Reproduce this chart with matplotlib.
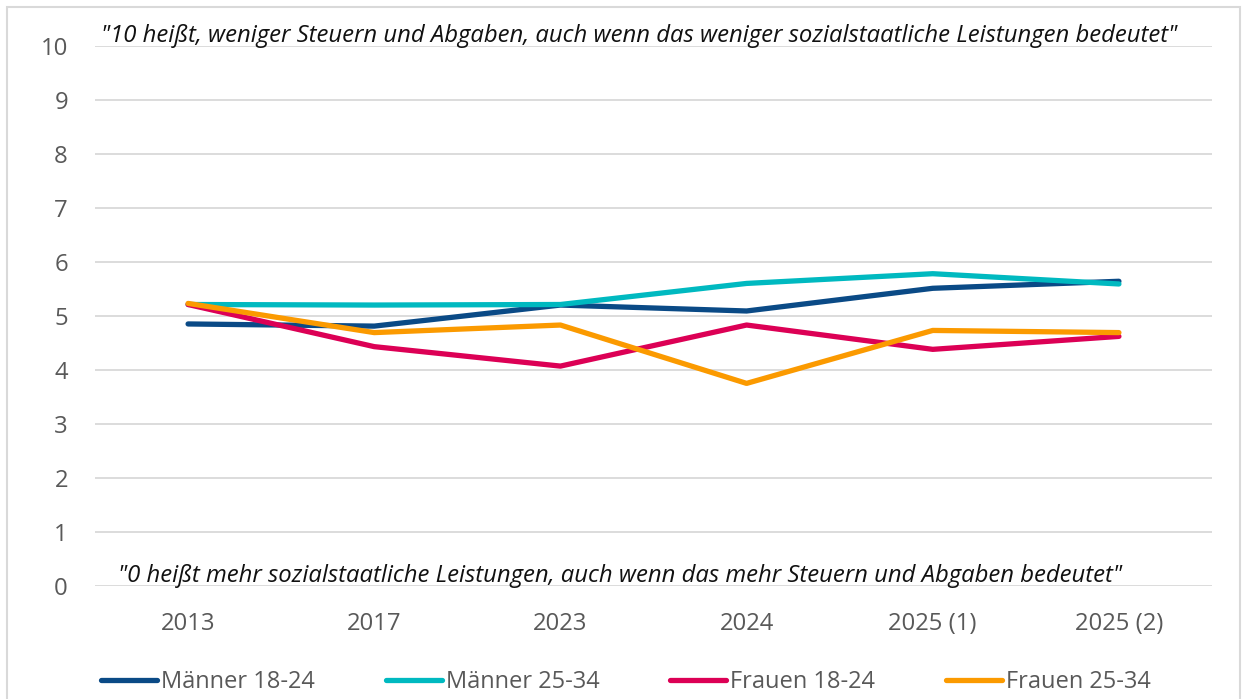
import matplotlib
matplotlib.use("Agg")
import matplotlib.pyplot as plt
from matplotlib.patches import Rectangle
from matplotlib.lines import Line2D

categories = ["2013", "2017", "2023", "2024", "2025 (1)", "2025 (2)"]
maenner_18_24 = [4.85, 4.81, 5.20, 5.09, 5.51, 5.64]
maenner_25_34 = [5.21, 5.20, 5.21, 5.60, 5.78, 5.59]
frauen_18_24 = [5.21, 4.43, 4.07, 4.83, 4.38, 4.62]
frauen_25_34 = [5.23, 4.69, 4.83, 3.75, 4.73, 4.69]
series_names = ["Männer 18-24", "Männer 25-34", "Frauen 18-24", "Frauen 25-34"]
colors = ["#0A4A86", "#00B9C0", "#DC0055", "#FB9A00"]
top_text = '"10 heißt, weniger Steuern und Abgaben, auch wenn das weniger sozialstaatliche Leistungen bedeutet"'
bottom_text = '"0 heißt mehr sozialstaatliche Leistungen, auch wenn das mehr Steuern und Abgaben bedeutet"'

plt.rcParams['font.family'] = ['Open Sans', 'DejaVu Sans']

W, H = 1248, 699
fig = plt.figure(figsize=(W / 100, H / 100), dpi=100)
ax = fig.add_axes([95 / W, 1 - 586 / H, (1212 - 95) / W, (586 - 45.7) / H])

x = list(range(len(categories)))
for vals, name, c in zip([maenner_18_24, maenner_25_34, frauen_18_24, frauen_25_34], series_names, colors):
    ax.plot(x, vals, color=c, lw=3.8, solid_capstyle='round', solid_joinstyle='round', label=name, zorder=3)

ax.set_xlim(-0.5, len(categories) - 0.5)
ax.set_ylim(0, 10)
ax.set_yticks(range(0, 11))
ax.set_xticks(x)
ax.set_xticklabels(categories)
ax.grid(axis='y', color='#D9D9D9', lw=1.3, zorder=0)
ax.tick_params(axis='both', length=0, labelsize=17.2, labelcolor='#595959')
ax.tick_params(axis='y', pad=19.5)
ax.tick_params(axis='x', pad=19)
for s in ax.spines.values():
    s.set_visible(False)

ax.text((101 - 95) / 1117, 10.074, top_text, transform=ax.get_yaxis_transform(),
        fontsize=17.2, style='italic', color='#111111', ha='left', va='baseline')
ax.text((118 - 95) / 1117, 0.074, bottom_text, transform=ax.get_yaxis_transform(),
        fontsize=17.2, style='italic', color='#111111', ha='left', va='baseline')

handles = [Line2D([0], [0], color=c, lw=3.8, solid_capstyle='round') for c in colors]
fig.legend(handles, series_names, loc='center', bbox_to_anchor=(626 / W, 1 - 682.5 / H), ncol=4,
           frameon=False, fontsize=17, labelcolor='#595959', handlelength=2.37, handletextpad=0.17,
           columnspacing=3.0, borderpad=0, borderaxespad=0)

fig.patches.append(Rectangle((7 / W, -0.05), (1240 - 7) / W, 1.05 - 7 / H, transform=fig.transFigure,
                             fill=False, edgecolor='#D9D9D9', lw=1.5))

fig.savefig("out.png", dpi=100)
